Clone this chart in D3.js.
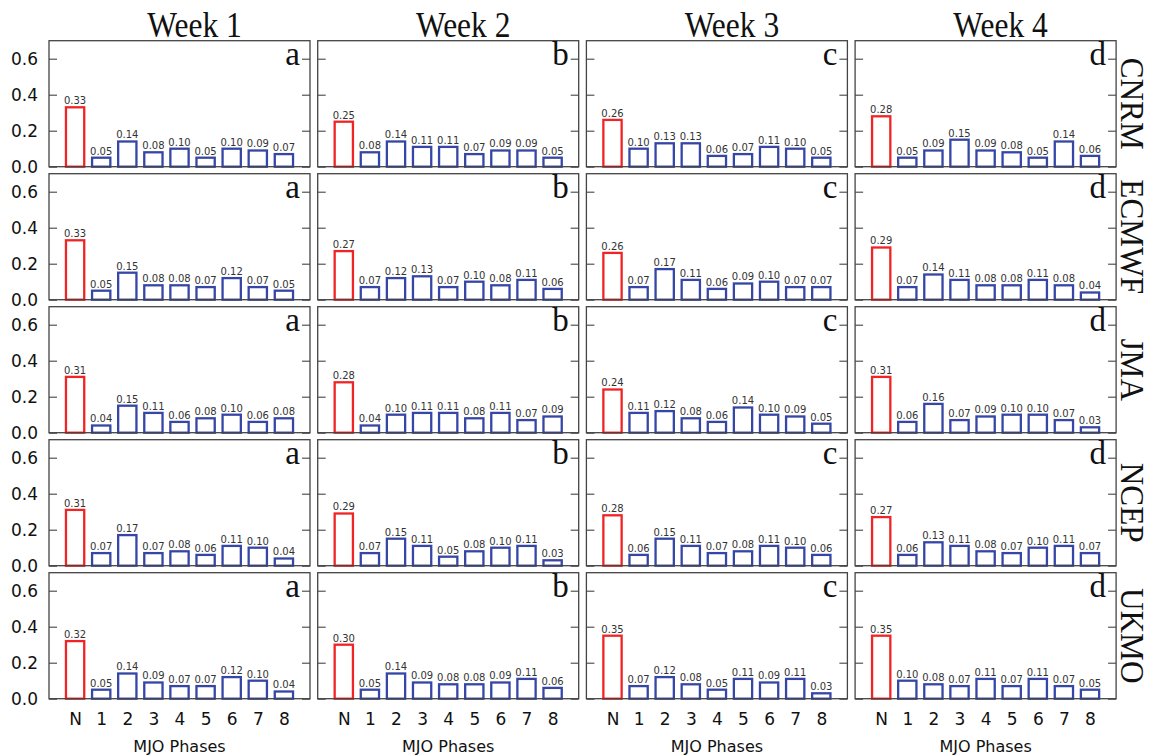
<!DOCTYPE html>
<html>
<head>
<meta charset="utf-8">
<script src="https://cdn.jsdelivr.net/npm/d3@7"></script>
<style>
  html, body { margin: 0; padding: 0; background: #fff; }
  svg { display: block; }
</style>
</head>
<body>
<svg id="chart" width="1152" height="756"></svg>
<script>
// Lead-time columns, forecast systems (rows) and bar categories
const weeks = ["Week 1", "Week 2", "Week 3", "Week 4"];
const panelLetters = ["a", "b", "c", "d"];
const models = ["CNRM", "ECMWF", "JMA", "NCEP", "UKMO"];
const phases = ["N", "1", "2", "3", "4", "5", "6", "7", "8"];
const yTicks = [0.0, 0.2, 0.4, 0.6];

// Fractions per phase (N, 1..8) for weeks 1-4
const cnrm = [
  [0.33, 0.05, 0.14, 0.08, 0.10, 0.05, 0.10, 0.09, 0.07],
  [0.25, 0.08, 0.14, 0.11, 0.11, 0.07, 0.09, 0.09, 0.05],
  [0.26, 0.10, 0.13, 0.13, 0.06, 0.07, 0.11, 0.10, 0.05],
  [0.28, 0.05, 0.09, 0.15, 0.09, 0.08, 0.05, 0.14, 0.06]
];
const ecmwf = [
  [0.33, 0.05, 0.15, 0.08, 0.08, 0.07, 0.12, 0.07, 0.05],
  [0.27, 0.07, 0.12, 0.13, 0.07, 0.10, 0.08, 0.11, 0.06],
  [0.26, 0.07, 0.17, 0.11, 0.06, 0.09, 0.10, 0.07, 0.07],
  [0.29, 0.07, 0.14, 0.11, 0.08, 0.08, 0.11, 0.08, 0.04]
];
const jma = [
  [0.31, 0.04, 0.15, 0.11, 0.06, 0.08, 0.10, 0.06, 0.08],
  [0.28, 0.04, 0.10, 0.11, 0.11, 0.08, 0.11, 0.07, 0.09],
  [0.24, 0.11, 0.12, 0.08, 0.06, 0.14, 0.10, 0.09, 0.05],
  [0.31, 0.06, 0.16, 0.07, 0.09, 0.10, 0.10, 0.07, 0.03]
];
const ncep = [
  [0.31, 0.07, 0.17, 0.07, 0.08, 0.06, 0.11, 0.10, 0.04],
  [0.29, 0.07, 0.15, 0.11, 0.05, 0.08, 0.10, 0.11, 0.03],
  [0.28, 0.06, 0.15, 0.11, 0.07, 0.08, 0.11, 0.10, 0.06],
  [0.27, 0.06, 0.13, 0.11, 0.08, 0.07, 0.10, 0.11, 0.07]
];
const ukmo = [
  [0.32, 0.05, 0.14, 0.09, 0.07, 0.07, 0.12, 0.10, 0.04],
  [0.30, 0.05, 0.14, 0.09, 0.08, 0.08, 0.09, 0.11, 0.06],
  [0.35, 0.07, 0.12, 0.08, 0.05, 0.11, 0.09, 0.11, 0.03],
  [0.35, 0.10, 0.08, 0.07, 0.11, 0.07, 0.11, 0.07, 0.05]
];
const modelValues = [cnrm, ecmwf, jma, ncep, ukmo];

// Grid geometry
const gridLeft = 49, gridTop = 40.7;
const panelW = 261, panelH = 126;
const colStep = 268.7, rowStep = 133;

const sans = "'DejaVu Sans', sans-serif";
const serif = "'Liberation Serif', 'Times New Roman', serif";
const red = "#f02424", blue = "#3546a6", frame = "#444";

const svg = d3.select("#chart");

// Bars are centred on integer positions 0..8 with one unit of margin each side
const x = d3.scaleLinear().domain([-1, phases.length]).range([0, panelW]);
const y = d3.scaleLinear().domain([0, 0.7]).range([panelH, 0]);
const barW = 0.7;

models.forEach((model, r) => {
  weeks.forEach((week, c) => {
    const px = gridLeft + c * colStep, py = gridTop + r * rowStep;
    const g = svg.append("g").attr("transform", `translate(${px},${py})`);
    const vals = modelValues[r][c];

    // inward ticks on the left and right edges
    g.append("g").call(d3.axisLeft(y).tickValues(yTicks).tickSize(-8).tickFormat(""))
      .call(a => a.select(".domain").remove())
      .call(a => a.selectAll("line").attr("stroke", frame).attr("stroke-width", 1.1));
    g.append("g").attr("transform", `translate(${panelW},0)`)
      .call(d3.axisRight(y).tickValues(yTicks).tickSize(-8).tickFormat(""))
      .call(a => a.select(".domain").remove())
      .call(a => a.selectAll("line").attr("stroke", frame).attr("stroke-width", 1.1));

    // tick labels on the first column only
    if (c === 0) {
      g.append("g").call(d3.axisLeft(y).tickValues(yTicks).tickSize(0).tickPadding(11)
          .tickFormat(d3.format(".1f")))
        .call(a => a.select(".domain").remove())
        .call(a => a.selectAll("text").attr("font-family", sans).attr("font-size", 17)
          .attr("fill", "#111"));
    }

    // outlined bars
    g.selectAll("rect.bar").data(vals).join("rect")
      .attr("class", "bar")
      .attr("x", (d, i) => x(i - barW / 2))
      .attr("width", x(barW) - x(0))
      .attr("y", d => y(d))
      .attr("height", d => y(0) - y(d))
      .attr("fill", "none")
      .attr("stroke", (d, i) => i === 0 ? red : blue)
      .attr("stroke-width", 2.3);

    // value labels
    g.selectAll("text.val").data(vals).join("text")
      .attr("class", "val")
      .attr("x", (d, i) => x(i))
      .attr("y", d => y(d) - 3)
      .attr("text-anchor", "middle")
      .attr("font-family", sans).attr("font-size", 10).attr("fill", "#333")
      .text(d => d.toFixed(2));

    // panel frame
    g.append("rect").attr("width", panelW).attr("height", panelH)
      .attr("fill", "none").attr("stroke", frame).attr("stroke-width", 1.3);

    // panel letter
    g.append("text").attr("x", panelW - 10).attr("y", 24)
      .attr("text-anchor", "end").attr("font-family", serif).attr("font-size", 33)
      .attr("fill", "#111").text(panelLetters[c]);

    // phase labels under the bottom row
    if (r === models.length - 1) {
      g.append("g").attr("transform", `translate(0,${panelH})`)
        .call(d3.axisBottom(x).tickValues(d3.range(phases.length)).tickSize(0).tickPadding(14)
          .tickFormat(i => phases[i]))
        .call(a => a.select(".domain").remove())
        .call(a => a.selectAll("text").attr("font-family", sans).attr("font-size", 17)
          .attr("fill", "#111"));
      g.append("text").attr("x", panelW / 2).attr("y", panelH + 53)
        .attr("text-anchor", "middle").attr("font-family", sans).attr("font-size", 16)
        .attr("fill", "#111").text("MJO Phases");
    }

    // week title above the top row (slightly condensed serif)
    if (r === 0) {
      g.append("text")
        .attr("transform", `translate(${panelW / 2 + 15},-4) scale(0.9,1)`)
        .attr("text-anchor", "middle").attr("font-family", serif).attr("font-size", 35)
        .attr("fill", "#111").text(week);
    }

    // model name to the right of the last column
    if (c === weeks.length - 1) {
      g.append("text")
        .attr("transform", `translate(${panelW + 5},${panelH / 2}) rotate(90) scale(0.92,1)`)
        .attr("text-anchor", "middle").attr("font-family", serif).attr("font-size", 34)
        .attr("fill", "#111").text(model);
    }
  });
});
</script>
</body>
</html>
